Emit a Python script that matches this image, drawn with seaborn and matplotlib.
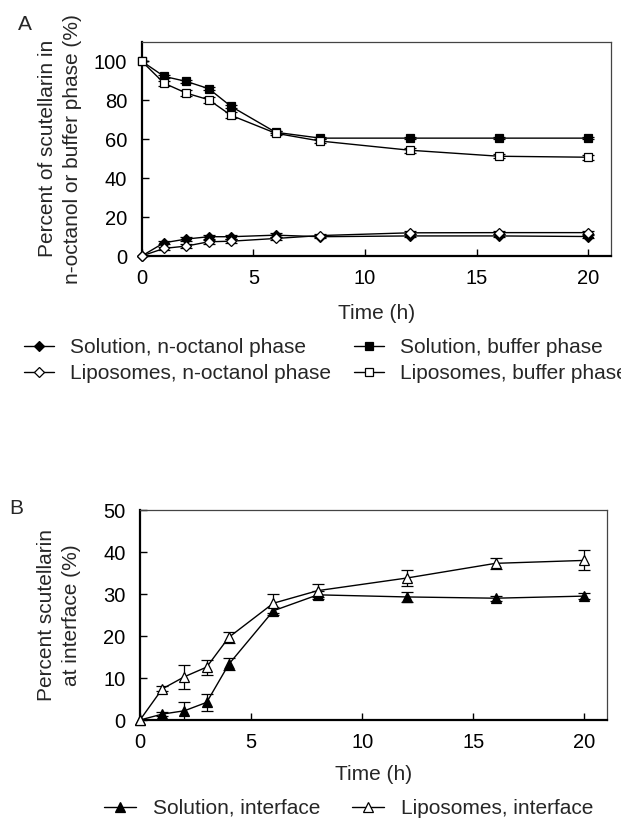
import numpy as np
import pandas as pd
import matplotlib
matplotlib.use("Agg")
import matplotlib.pyplot as plt
import seaborn as sns

# ---- data ----
time_h = [0, 1, 2, 3, 4, 6, 8, 12, 16, 20]

sol_octanol = [0, 6.8, 8.7, 9.9, 9.9, 10.7, 9.9, 10.3, 10.3, 10.0]
lip_octanol = [0, 3.9, 5.1, 7.3, 7.6, 9.0, 10.5, 11.9, 12.0, 12.0]
sol_buffer = [100, 92.2, 89.6, 85.9, 76.8, 63.5, 60.5, 60.5, 60.5, 60.5]
lip_buffer = [100, 88.7, 83.6, 80.2, 72.2, 63.0, 59.0, 54.3, 51.2, 50.7]
sol_octanol_err = [0, 0.8, 0.8, 1.0, 1.0, 1.0, 0.8, 0.8, 0.8, 0.8]
lip_octanol_err = [0, 0.8, 1.0, 1.0, 1.0, 0.8, 0.8, 0.8, 0.8, 0.8]
sol_buffer_err = [0, 0.6, 0.6, 0.6, 0.6, 0.6, 0.5, 0.5, 0.5, 0.5]
lip_buffer_err = [0, 1.2, 1.5, 1.5, 1.5, 1.0, 1.2, 1.2, 1.0, 1.2]

sol_interface = [0, 1.4, 2.2, 4.2, 13.3, 26.0, 29.8, 29.3, 29.0, 29.5]
lip_interface = [0, 7.4, 10.3, 12.6, 19.7, 27.8, 30.8, 33.8, 37.3, 38.0]
sol_interface_err = [0, 0.5, 2.2, 2.0, 1.5, 1.0, 1.0, 1.2, 0.6, 0.8]
lip_interface_err = [0, 0.6, 2.8, 1.8, 1.3, 2.3, 1.5, 1.8, 1.3, 2.4]

xticks = [0, 5, 10, 15, 20]
yticks_a = [0, 20, 40, 60, 80, 100]
yticks_b = [0, 10, 20, 30, 40, 50]

sns.set_theme(style="white")
plt.rcParams["font.family"] = ["Liberation Sans", "DejaVu Sans"]
plt.rcParams["font.size"] = 15

W, H = 621, 831
fig = plt.figure(figsize=(W / 100, H / 100), dpi=100)

def frac_axes(left, top, right, bottom):
    return fig.add_axes([left / W, 1 - bottom / H, (right - left) / W, (bottom - top) / H])

axA = frac_axes(141.7, 41.7, 610.7, 256)
axB = frac_axes(140, 510, 606.7, 720)

def style_axes(ax, ylim, yticks, xlab_y, ylab_x):
    ax.set_xlim(0, 21)
    ax.set_ylim(*ylim)
    ax.set_xticks(xticks)
    ax.set_yticks(yticks)
    ax.tick_params(direction="in", length=5, width=1, colors="black",
                   labelsize=14.5, left=True, bottom=True)
    ax.tick_params(axis="x", pad=9)
    ax.tick_params(axis="y", pad=10.5)
    for s in ["left", "bottom"]:
        ax.spines[s].set_color("black")
        ax.spines[s].set_linewidth(1.6)
    for s in ["top", "right"]:
        ax.spines[s].set_color("#444444")
        ax.spines[s].set_linewidth(0.9)
    ax.set_xlabel("Time (h)", fontsize=15)
    ax.xaxis.set_label_coords(0.5, xlab_y)
    ax.yaxis.set_label_coords(ylab_x, 0.5)
    ax.set_facecolor("white")

def series(ax, y, err, marker, filled, label, ms):
    df = pd.DataFrame({"t": time_h, "v": y})
    sns.lineplot(data=df, x="t", y="v", ax=ax, color="black", linewidth=1.0,
                 marker=marker, markersize=ms,
                 markerfacecolor="black" if filled else "white",
                 markeredgecolor="black", markeredgewidth=0.9,
                 label=label, zorder=3, clip_on=False)
    ax.errorbar(time_h, y, yerr=err, fmt="none", ecolor="black",
                elinewidth=0.9, capsize=4, capthick=0.9, zorder=2)

series(axA, sol_octanol, sol_octanol_err, "D", True, "Solution, n-octanol phase", 7)
series(axA, lip_octanol, lip_octanol_err, "D", False, "Liposomes, n-octanol phase", 7)
series(axA, sol_buffer, sol_buffer_err, "s", True, "Solution, buffer phase", 8.5)
series(axA, lip_buffer, lip_buffer_err, "s", False, "Liposomes, buffer phase", 7.5)
axA.set_ylabel("Percent of scutellarin in\nn-octanol or buffer phase (%)",
               fontsize=15, linespacing=1.4, va="center")
style_axes(axA, (0, 110), yticks_a, -0.225, -0.175)

series(axB, sol_interface, sol_interface_err, "^", True, "Solution, interface", 9)
series(axB, lip_interface, lip_interface_err, "^", False, "Liposomes, interface", 8.5)
axB.set_ylabel("Percent scutellarin\nat interface (%)", fontsize=15,
               linespacing=1.4, va="center")
style_axes(axB, (0, 50), yticks_b, -0.215, -0.1725)

hA, lA = axA.get_legend_handles_labels()
axA.get_legend().remove()
for h in hA:
    h.set_markersize(5.5)
fig.legend(hA, lA, ncol=2, loc="upper left", bbox_to_anchor=(24 / W, 1 - 338 / H),
           frameon=False, fontsize=15, handlelength=1.45, handletextpad=0.75,
           columnspacing=1.1, labelspacing=0.35, borderaxespad=0, borderpad=0)

hB, lB = axB.get_legend_handles_labels()
axB.get_legend().remove()
for h in hB:
    h.set_markersize(6.5)
fig.legend(hB, lB, ncol=2, loc="upper left", bbox_to_anchor=(104 / W, 1 - 799 / H),
           frameon=False, fontsize=15, handlelength=1.55, handletextpad=0.8,
           columnspacing=1.5, borderaxespad=0, borderpad=0)

fig.text(18 / W, 1 - 24 / H, "A", fontsize=15, ha="left", va="center")
fig.text(9 / W, 1 - 508 / H, "B", fontsize=15, ha="left", va="center")

fig.savefig("out.png", dpi=100, facecolor="white")
